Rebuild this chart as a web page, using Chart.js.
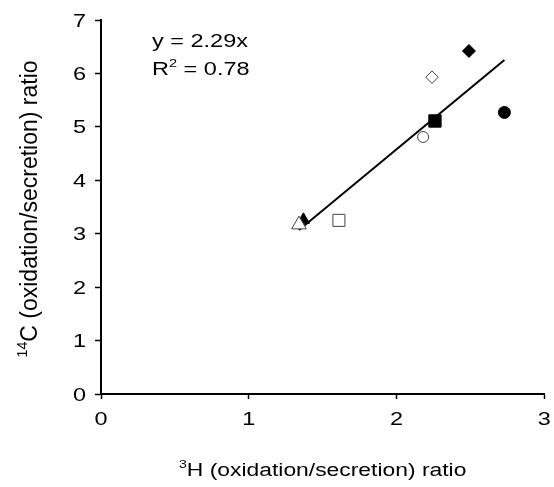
<!DOCTYPE html>
<html>
<head>
<meta charset="utf-8">
<script src="https://cdn.jsdelivr.net/npm/chart.js@4/dist/chart.umd.min.js"></script>
<style>
html,body{margin:0;padding:0;background:#fff;}
#wrap{width:554px;height:487px;position:relative;}
</style>
</head>
<body>
<div id="wrap"><canvas id="c" width="554" height="487"></canvas></div>
<script>
// Data
const pointNames = ['filledDiamond','openDiamond','filledCircle','filledSquare','openCircle','openSquare','filledTriangle','openTriangle'];
const xValues = [2.49, 2.24, 2.73, 2.26, 2.18, 1.61, 1.37, 1.34];
const yValues = [6.42, 5.93, 5.27, 5.11, 4.81, 3.25, 3.26, 3.17];
const trendX = [1.34, 2.73];
const trendY = [3.07, 6.25];
const xTicks = [0, 1, 2, 3];
const yTicks = [0, 1, 2, 3, 4, 5, 6, 7];
const xTitle = [{t:'3', sup:true}, {t:'H (oxidation/secretion) ratio'}];
const yTitle = [{t:'14', sup:true}, {t:'C (oxidation/secretion) ratio'}];
const eqLine1 = [{t:'y = 2.29x'}];
const eqLine2 = [{t:'R'}, {t:'2', sup:true}, {t:' = 0.78'}];

const styles = {
  filledDiamond: {pointStyle:'rectRot', r:6.5, fill:'#000'},
  openDiamond: {pointStyle:'rectRot', r:6.2, fill:'#fff'},
  filledCircle: {pointStyle:'circle', r:6, fill:'#000'},
  filledSquare: {pointStyle:'rect', r:8.7, fill:'#000'},
  openCircle: {pointStyle:'circle', r:5.5, fill:'#fff'},
  openSquare: {pointStyle:'rect', r:8.5, fill:'#fff'},
  filledTriangle: {pointStyle:'triangle', r:7, fill:'#000'},
  openTriangle: {pointStyle:'triangle', r:8.5, fill:'#fff'}
};

const datasets = [];
const order = [7,5,4,1,0,2,3,6];
order.forEach(i => {
  const s = styles[pointNames[i]];
  datasets.push({
    type:'scatter',
    label: pointNames[i],
    data:[{x:xValues[i], y:yValues[i]}],
    pointStyle:s.pointStyle,
    pointRadius:s.r,
    pointHoverRadius:s.r,
    backgroundColor:s.fill,
    borderColor: s.fill === '#fff' ? '#444' : '#000',
    borderWidth:1
  });
});
datasets.push({
  type:'line',
  label:'trend',
  data: trendX.map((x,i)=>({x:x, y:trendY[i]})),
  borderColor:'#000',
  borderWidth:2,
  pointRadius:0,
  fill:false
});

const FAM = '"Liberation Sans", Arial, sans-serif';

function richWidth(ctx, segs, size){
  let w = 0;
  segs.forEach(s => {
    ctx.font = (s.sup ? size*0.62 : size) + 'px ' + FAM;
    w += ctx.measureText(s.t).width;
  });
  return w;
}
// draws rich text with baseline at (0,0) in current transform
function drawRich(ctx, segs, size, align){
  const w = richWidth(ctx, segs, size);
  let x = align === 'center' ? -w/2 : (align === 'right' ? -w : 0);
  ctx.textAlign = 'left';
  ctx.textBaseline = 'alphabetic';
  segs.forEach(s => {
    const fs = s.sup ? size*0.62 : size;
    ctx.font = fs + 'px ' + FAM;
    ctx.fillText(s.t, x, s.sup ? -size*0.42 : 0);
    x += ctx.measureText(s.t).width;
  });
}

const SX = 1.27; // horizontal stretch of text in reference
const textPlugin = {
  id:'texts',
  afterDraw(chart){
    const ctx = chart.ctx;
    const xs = chart.scales.x, ys = chart.scales.y;
    ctx.save();
    ctx.fillStyle = '#000';
    // x tick labels
    xTicks.forEach(v => {
      ctx.save();
      ctx.translate(xs.getPixelForValue(v), 425);
      ctx.scale(SX, 1);
      drawRich(ctx, [{t:String(v)}], 18.5, 'center');
      ctx.restore();
    });
    // y tick labels
    yTicks.forEach(v => {
      ctx.save();
      ctx.translate(86, ys.getPixelForValue(v) + 6.6);
      ctx.scale(SX, 1);
      drawRich(ctx, [{t:String(v)}], 18.5, 'right');
      ctx.restore();
    });
    // x title
    ctx.save();
    ctx.translate((xs.left + xs.right)/2, 476);
    ctx.scale(SX, 1);
    drawRich(ctx, xTitle, 18, 'center');
    ctx.restore();
    // y title
    ctx.save();
    ctx.translate(37, (ys.top + ys.bottom)/2 + 2);
    ctx.rotate(-Math.PI/2);
    drawRich(ctx, yTitle, 23, 'center');
    ctx.restore();
    // equation
    ctx.save();
    ctx.translate(152, 46.7);
    ctx.scale(SX, 1);
    drawRich(ctx, eqLine1, 18.5, 'left');
    ctx.restore();
    ctx.save();
    ctx.translate(152, 75);
    ctx.scale(SX, 1);
    drawRich(ctx, eqLine2, 18.5, 'left');
    ctx.restore();
    ctx.restore();
  }
};

new Chart(document.getElementById('c'), {
  data:{datasets},
  options:{
    responsive:false,
    animation:false,
    events:[],
    layout:{padding:{left:0, right:8, top:20, bottom:0}},
    plugins:{legend:{display:false}, tooltip:{enabled:false}},
    scales:{
      x:{
        type:'linear', min:0, max:3,
        afterBuildTicks(s){ s.ticks = xTicks.map(v=>({value:v})); },
        afterFit(s){ s.height = 93; },
        grid:{display:true, drawOnChartArea:false, drawTicks:true, tickLength:5, color:'#000', tickWidth:1.5},
        border:{display:true, color:'#000', width:2},
        ticks:{display:false},
        title:{display:false}
      },
      y:{
        type:'linear', min:0, max:7,
        afterBuildTicks(s){ s.ticks = yTicks.map(v=>({value:v})); },
        afterFit(s){ s.width = 101; },
        grid:{display:true, drawOnChartArea:false, drawTicks:true, tickLength:6, color:'#000', tickWidth:1.5},
        border:{display:true, color:'#000', width:2},
        ticks:{display:false},
        title:{display:false}
      }
    }
  },
  plugins:[textPlugin]
});
</script>
</body>
</html>
